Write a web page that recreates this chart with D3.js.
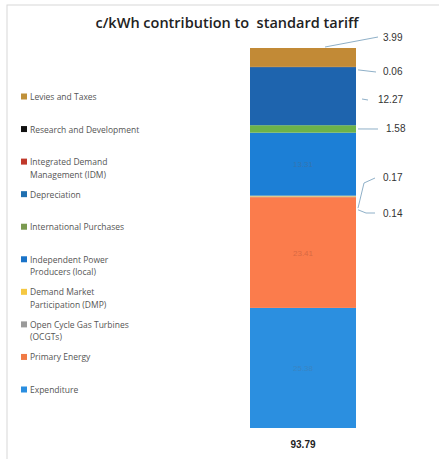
<!DOCTYPE html>
<html><head><meta charset="utf-8">
<script src="https://cdn.jsdelivr.net/npm/d3@7"></script>
<style>html,body{margin:0;padding:0;background:#fff;}svg{display:block;}</style>
</head><body>
<svg id="c" width="439" height="459"></svg>
<script>
// ---- data ----
const categories = ["93.79"];
const seriesNames = ["Expenditure","Primary Energy","Open Cycle Gas Turbines (OCGTs)","Demand Market Participation (DMP)","Independent Power Producers (local)","International Purchases","Depreciation","Integrated Demand Management (IDM)","Research and Development","Levies and Taxes"];
const seriesValues = [25.38, 23.41, 0.14, 0.17, 13.31, 1.58, 12.27, 0, 0.06, 3.99];
const legendLines = [["Expenditure"],["Primary Energy"],["Open Cycle Gas Turbines","(OCGTs)"],["Demand Market","Participation (DMP)"],["Independent Power","Producers (local)"],["International Purchases"],["Depreciation"],["Integrated Demand","Management (IDM)"],["Research and Development"],["Levies and Taxes"]];
const outsideLabels = ["3.99","0.06","12.27","1.58","0.17","0.14"];
const insideLabels = ["13.31","23.41","25.38"];
const title = "c/kWh contribution to  standard tariff";

// ---- styles ----
const barColors = ["#2b8fe0","#fb7c4c","#a0a0a0","#f5c443","#1c7fd6","#6cb24a","#1e64ae","#c0392b","#1a1a1a","#c28a36"];
const swatchColors = ["#2a8ee0","#f07a45","#9a9a9a","#f5c842","#1a73c8","#7a9a50","#1f6fb0","#c0392b","#111","#c0913a"];

const svg = d3.select("#c");
svg.append("rect").attr("x",7).attr("y",5).attr("width",440).attr("height",470)
  .attr("fill","none").attr("stroke","#d8d8d8").attr("stroke-width",1);

svg.append("text").attr("x",227).attr("y",28).attr("text-anchor","middle").attr("xml:space","preserve")
  .attr("font-family","Open Sans, sans-serif").attr("font-weight",600).attr("font-size",14.5)
  .attr("fill","#222").text(title);

const total = d3.sum(seriesValues);
const y = d3.scaleLinear().domain([0,total]).range([428,48]);
const x = d3.scaleBand().domain(categories).range([250,356]).padding(0);

let cum = 0;
const segs = seriesValues.map((v,i)=>{const s={i,name:seriesNames[i],v,y0:cum,y1:cum+v};cum+=v;return s;});

svg.append("g").selectAll("rect").data(segs).join("rect")
  .attr("x",x(categories[0])).attr("width",x.bandwidth())
  .attr("y",d=>y(d.y1)).attr("height",d=>y(d.y0)-y(d.y1))
  .attr("fill",d=>barColors[d.i]);

// inside labels (faint)
const insideIdx = [4,1,0];
const insideCol = ["#3f6f9e","#c8603e","#3f7fb5"];
insideIdx.forEach((si,k)=>{
  const s=segs[si];
  svg.append("text").attr("x",x(categories[0])+x.bandwidth()/2).attr("y",(y(s.y0)+y(s.y1))/2+3)
    .attr("text-anchor","middle").attr("font-family","Liberation Sans, sans-serif").attr("font-size",8)
    .attr("fill",insideCol[k]).attr("fill-opacity",0.7).text(insideLabels[k]);
});

// outside labels with leader lines
const outIdx = [9,8,6,5,3,2];
const labelPos = [[383,41],[383,75],[378,103],[386,132],[383,181],[383,217]];
const leaderCol = "#8fb0c8";
const bx = x(categories[0])+x.bandwidth();
outIdx.forEach((si,k)=>{
  const s=segs[si];
  const [lx,ly]=labelPos[k];
  const ay=(y(s.y0)+y(s.y1))/2;
  let pts;
  if(k===0) pts=[[325,y(s.y1)-1],[lx-5,ly-4]];
  else if(k===1) pts=[[bx+2,y(s.y1)+3],[lx-7,ly-3]];
  else if(k===2) pts=[[bx+6,ly-4],[bx+12,ly-3]];
  else if(k===3) pts=[[bx+2,ay],[lx-8,ly-3]];
  else if(k===4) pts=[[bx+2,ay+12],[bx+8,ly+2],[lx-8,ly-3]];
  else pts=[[bx+2,ay+13],[bx+10,ly-4],[lx-8,ly-4]];
  svg.append("path").attr("d",d3.line()(pts)).attr("fill","none").attr("stroke",leaderCol).attr("stroke-width",1);
  svg.append("text").attr("x",lx).attr("y",ly).attr("font-family","Liberation Sans, sans-serif")
    .attr("font-size",10).attr("fill","#333").text(outsideLabels[k]);
});

// category axis
const ax = svg.append("g").attr("transform","translate(0,436)").call(d3.axisBottom(x).tickSize(0));
ax.select(".domain").remove();
ax.selectAll("text").attr("font-family","Liberation Sans, sans-serif").attr("font-weight","bold")
  .attr("font-size",10).attr("fill","#222").attr("dy","0.9em");

// legend (top to bottom = reverse of stack)
const legOrder = d3.range(seriesNames.length).reverse();
const ly = d3.scalePoint().domain(legOrder).range([97,390]);
const lg = svg.append("g");
legOrder.forEach(i=>{
  const yy=ly(i);
  lg.append("rect").attr("x",21).attr("y",yy-3.5).attr("width",6).attr("height",6).attr("fill",swatchColors[i]);
  legendLines[i].forEach((t,j)=>{
    lg.append("text").attr("x",30).attr("y",yy+3+j*12.5).attr("font-family","Open Sans, sans-serif")
      .attr("font-size",8.5).attr("fill","#555").text(t);
  });
});
</script>
</body></html>
